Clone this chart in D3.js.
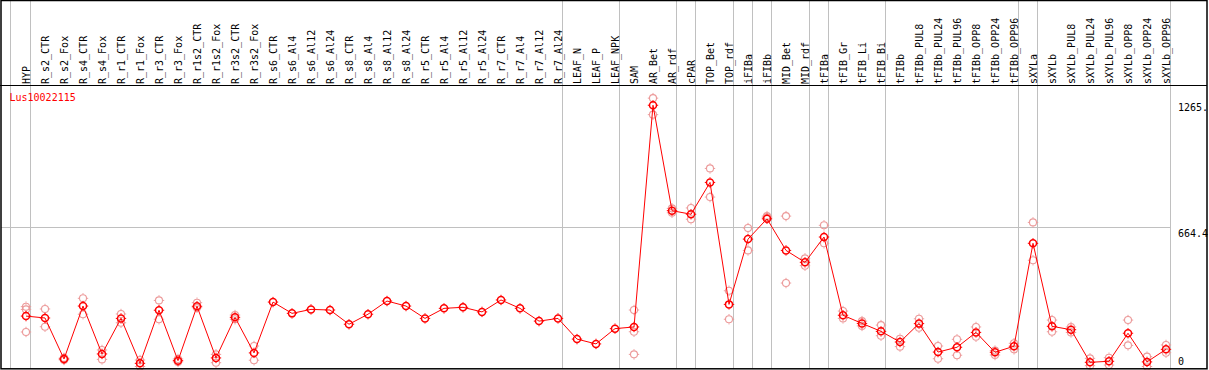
<!DOCTYPE html>
<html>
<head>
<meta charset="utf-8">
<script src="https://cdn.jsdelivr.net/npm/d3@7"></script>
<style>
  body { margin: 0; background: #fff; }
  text { font-family: "DejaVu Sans Mono", monospace; font-size: 10px; }
</style>
</head>
<body>
<div id="chart"></div>
<script>

const title = 'Lus10022115';

const categories = [
  'HYP', 'R_s2_CTR', 'R_s2_Fox', 'R_s4_CTR', 'R_s4_Fox', 'R_r1_CTR', 'R_r1_Fox',
  'R_r3_CTR', 'R_r3_Fox', 'R_r1s2_CTR', 'R_r1s2_Fox', 'R_r3s2_CTR', 'R_r3s2_Fox',
  'R_s6_CTR', 'R_s6_Al4', 'R_s6_Al12', 'R_s6_Al24', 'R_s8_CTR', 'R_s8_Al4',
  'R_s8_Al12', 'R_s8_Al24', 'R_r5_CTR', 'R_r5_Al4', 'R_r5_Al12', 'R_r5_Al24',
  'R_r7_CTR', 'R_r7_Al4', 'R_r7_Al12', 'R_r7_Al24', 'LEAF_N', 'LEAF_P', 'LEAF_NPK',
  'SAM', 'AR_Bet', 'AR_rdf', 'cPAR', 'TOP_Bet', 'TOP_rdf', 'iFIBa', 'iFIBb',
  'MID_Bet', 'MID_rdf', 'tFIBa', 'tFIB_Gr', 'tFIB_Li', 'tFIB_Bi', 'tFIBb',
  'tFIBb_PUL8', 'tFIBb_PUL24', 'tFIBb_PUL96', 'tFIBb_OPP8', 'tFIBb_OPP24', 'tFIBb_OPP96',
  'sXYLa', 'sXYLb', 'sXYLb_PUL8', 'sXYLb_PUL24', 'sXYLb_PUL96', 'sXYLb_OPP8',
  'sXYLb_OPP24', 'sXYLb_OPP96'
];

// mean expression per sample
const means = [
  241, 232, 36, 289, 60, 230, 15, 269, 28, 288, 41, 235, 65,
  308, 254, 273, 270, 202, 250, 313, 289, 230, 278, 283, 261, 318, 278, 217, 230,
  131, 108, 181,
  189, 1249, 745, 728, 880, 297, 609, 706, 555, 498, 619, 245, 206, 168, 117,
  205, 69, 92, 163, 68, 97,
  589, 192, 176, 20, 25, 159, 22, 82
];

// replicates (null = none shown)
const repA = [
  286, 275, 41, 326, 79, 251, 31, 316, 36, 305, 58, 246, 98,
  null, null, null, null, null, null, null, null, null, null, null, null, null, null, null, null,
  null, null, null,
  270, 1283, 756, 758, 947, 362, 662, 719, 719, 517, 675, 265, 217, 198, 133,
  228, 98, 130, 189, 76, 111,
  689, 222, 189, 39, 42, 222, 47, 103
];
const repB = [
  165, 190, 31, 250, 34, 209, 0, 226, 22, 281, 18, 226, 30,
  null, null, null, null, null, null, null, null, null, null, null, null, null, null, null, null,
  null, null, null,
  58, 1204, 735, 704, 810, 226, 555, 713, 399, 482, 589, 230, 194, 147, 95,
  185, 37, 54, 142, 55, 82,
  508, 166, 163, 4, 7, 101, 0, 66
];
const repC = categories.map(c => c === 'HYP' ? 273 : c === 'SAM' ? 166 : null);

// last sample of each group (vertical separators)
const groupEnds = ['HYP', 'R_r7_Al24', 'LEAF_NPK', 'AR_rdf', 'cPAR', 'TOP_rdf', 'iFIBa',
  'iFIBb', 'MID_rdf', 'tFIBa', 'tFIB_Bi', 'tFIBb_OPP96', 'sXYLa', 'sXYLb_OPP96'];

const tickValues = [1265, 664.4, 0];
const tickLabels = ['1265.', '664.4', '0'];

const widthSvg = 1209;
const heightSvg = 370;
const headerY = 85.5;
const bottomY = 368.8;

const scaleX = d3.scalePoint()
  .domain(categories)
  .range([26, 1166]);

const scaleY = d3.scaleLinear()
  .domain([0, 1265])
  .range([366.5, 101.9]);

const svg = d3.select('#chart').append('svg')
  .attr('width', widthSvg)
  .attr('height', heightSvg);

// grid
const sepX = [scaleX(categories[0]) - 15.5].concat(groupEnds.map(c => scaleX(c) + 4.5));

svg.append('g').selectAll('line')
  .data(sepX)
  .enter().append('line')
    .attr('x1', d => d).attr('x2', d => d)
    .attr('y1', 0).attr('y2', bottomY)
    .attr('stroke', '#c0c0c0')
    .attr('stroke-width', 1);

const lastSep = d3.max(sepX);
svg.append('line')
  .attr('x1', 1).attr('x2', lastSep)
  .attr('y1', Math.round(scaleY(664.4)) - 0.5).attr('y2', Math.round(scaleY(664.4)) - 0.5)
  .attr('stroke', '#c0c0c0');

// header
svg.append('line')
  .attr('x1', 0).attr('x2', widthSvg - 2)
  .attr('y1', headerY).attr('y2', headerY)
  .attr('stroke', '#000')
  .attr('stroke-width', 1.2);

svg.append('g').selectAll('text')
  .data(categories)
  .enter().append('text')
    .attr('transform', d => `translate(${scaleX(d) + 4}, 84)rotate(-90)`)
    .attr('fill', '#000')
    .text(d => d);

svg.append('text')
  .attr('x', 9.5)
  .attr('y', 100.5)
  .attr('fill', '#ff0000')
  .text(title);

// y labels
const axisY = d3.axisRight(scaleY)
  .tickValues(tickValues)
  .tickFormat((d, i) => tickLabels[i])
  .tickSize(0)
  .tickPadding(0);

const axisGroupY = svg.append('g')
  .attr('transform', 'translate(1178, 0)')
  .call(axisY);
axisGroupY.select('.domain').remove();
axisGroupY.selectAll('text')
  .attr('fill', '#000')
  .attr('dy', '0.32em')
  .attr('y', d => d === 0 ? -4.8 : 5.8);

// markers
const marker = (g, color, width) => {
  g.append('circle')
    .attr('r', 3.5)
    .attr('fill', 'none')
    .attr('stroke', color)
    .attr('stroke-width', width);
  [[0, -1], [0, 1], [-1, 0], [1, 0]].forEach(([dx, dy]) => {
    g.append('line')
      .attr('x1', dx * 4).attr('y1', dy * 4)
      .attr('x2', dx * 5.2).attr('y2', dy * 5.2)
      .attr('stroke', color)
      .attr('stroke-width', 1);
  });
};

const reps = [];
[repA, repB, repC].forEach(arr => {
  arr.forEach((v, i) => { if (v !== null) reps.push({ cat: categories[i], value: v }); });
});

svg.append('g').selectAll('g')
  .data(reps)
  .enter().append('g')
    .attr('transform', d => `translate(${scaleX(d.cat)}, ${scaleY(d.value)})`)
    .each(function () { marker(d3.select(this), '#ec9a9a', 1.1); });

const line = d3.line()
  .x((d, i) => scaleX(categories[i]))
  .y(d => scaleY(d));

svg.append('path')
  .datum(means)
  .attr('d', line)
  .attr('fill', 'none')
  .attr('stroke', '#ff0000')
  .attr('stroke-width', 1);

svg.append('g').selectAll('g')
  .data(means)
  .enter().append('g')
    .attr('transform', (d, i) => `translate(${scaleX(categories[i])}, ${scaleY(d)})`)
    .each(function () { marker(d3.select(this), '#ff0000', 1.5); });

// frame
svg.append('rect')
  .attr('x', 1).attr('y', 0.5)
  .attr('width', 1206).attr('height', bottomY - 0.5)
  .attr('fill', 'none')
  .attr('stroke', '#000')
  .attr('stroke-width', 1.5);

</script>
</body>
</html>
